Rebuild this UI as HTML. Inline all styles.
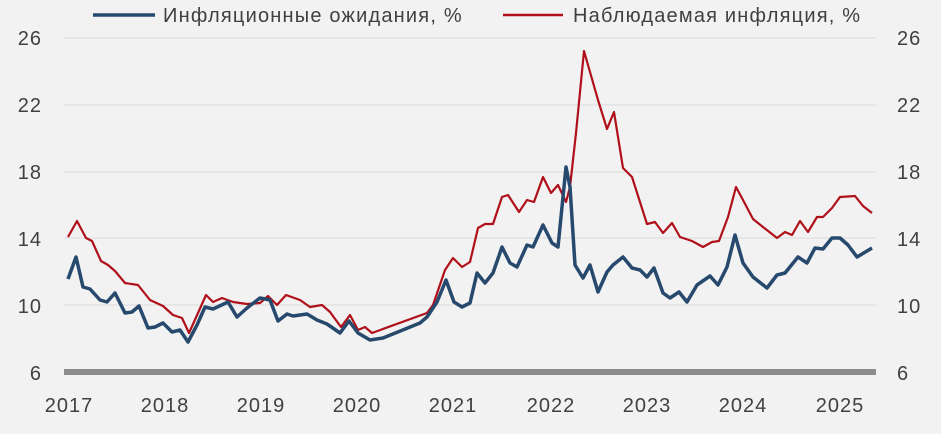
<!DOCTYPE html>
<html><head><meta charset="utf-8"><style>
html,body{margin:0;padding:0;background:#f2f2f2;}
svg text{font-family:"Liberation Sans",sans-serif;fill:#404040;}
</style></head><body>
<svg width="941" height="429" xmlns="http://www.w3.org/2000/svg">
<rect width="941" height="429" fill="#f2f2f2"/>
<g stroke="#e2e2e2" stroke-width="1.5">
<line x1="64" x2="876" y1="38" y2="38"/><line x1="64" x2="876" y1="105" y2="105"/>
<line x1="64" x2="876" y1="172" y2="172"/><line x1="64" x2="876" y1="238" y2="238"/>
<line x1="64" x2="876" y1="305" y2="305"/>
</g>
<rect x="64" y="369" width="812" height="6" fill="#8c8c8c"/>
<g font-size="20" text-anchor="end" letter-spacing="1">
<text x="42" y="45">26</text><text x="42" y="112">22</text><text x="42" y="179">18</text>
<text x="42" y="246">14</text><text x="42" y="313">10</text><text x="42" y="380">6</text>
</g>
<g font-size="20" text-anchor="start" letter-spacing="1">
<text x="897" y="45">26</text><text x="897" y="112">22</text><text x="897" y="179">18</text>
<text x="897" y="246">14</text><text x="897" y="313">10</text><text x="897" y="380">6</text>
</g>
<g font-size="20" text-anchor="middle" letter-spacing="1">
<text x="69" y="412">2017</text><text x="165" y="412">2018</text><text x="261" y="412">2019</text>
<text x="357" y="412">2020</text><text x="453" y="412">2021</text><text x="551" y="412">2022</text>
<text x="647" y="412">2023</text><text x="743" y="412">2024</text><text x="840" y="412">2025</text>
</g>
<line x1="93" x2="155" y1="15" y2="15" stroke="#27496d" stroke-width="3.5"/>
<text x="163" y="22" font-size="20" letter-spacing="1.2">Инфляционные ожидания, %</text>
<line x1="503" x2="563" y1="15" y2="15" stroke="#b0101a" stroke-width="2.5"/>
<text x="573" y="22" font-size="20" letter-spacing="1.2">Наблюдаемая инфляция, %</text>
<polyline fill="none" stroke="#b0101a" stroke-width="2.2" stroke-linejoin="round" points="68,237 77,221 86,238 92,241 101,261 108,265 115,271 125,283 138,285 150,300 163,306 173,315 182,318 189,333 198,313 206,295 213,302 222,298 233,302 247,304 260,303 268,296 277,305 286,295 300,300 310,307 322,305 330,312 341,327 350,315 358,330 365,327 372,333 427,313 433,305 445,270 453,258 462,267 470,262 478,228 485,224 493,224 502,197 508,195 519,212 527,200 534,202 543,177 551,193 558,185 566,202 570,187 576,133 584,51 590,72 598,100 607,129 614,112 623,168 632,177 647,224 655,222 663,233 672,223 680,237 692,241 703,247 712,242 719,241 728,217 736,187 743,200 753,219 763,227 777,238 785,232 792,235 800,221 808,232 817,217 823,217 832,208 840,197 855,196 863,206 872,213"/>
<polyline fill="none" stroke="#27496d" stroke-width="3.5" stroke-linejoin="round" points="68,279 76,257 83,287 90,289 100,300 107,302 115,293 125,313 132,312 139,306 148,328 155,327 163,323 172,332 180,330 188,342 197,325 205,307 213,309 228,302 237,317 247,308 260,298 270,300 278,321 287,314 293,316 307,314 317,320 327,324 340,333 349,321 358,333 370,340 383,338 420,323 427,317 437,302 446,280 454,302 462,307 470,303 477,273 485,283 493,273 502,247 510,263 517,267 527,245 533,247 543,225 552,243 558,247 566,167 570,187 575,265 583,278 590,265 598,292 607,272 613,265 623,257 632,268 640,270 647,277 654,268 663,293 670,298 679,292 687,302 697,285 710,276 718,285 727,267 735,235 743,263 753,277 767,288 777,275 785,273 798,257 807,263 815,248 823,249 832,238 840,238 848,245 857,257 872,248"/>
</svg>
</body></html>
